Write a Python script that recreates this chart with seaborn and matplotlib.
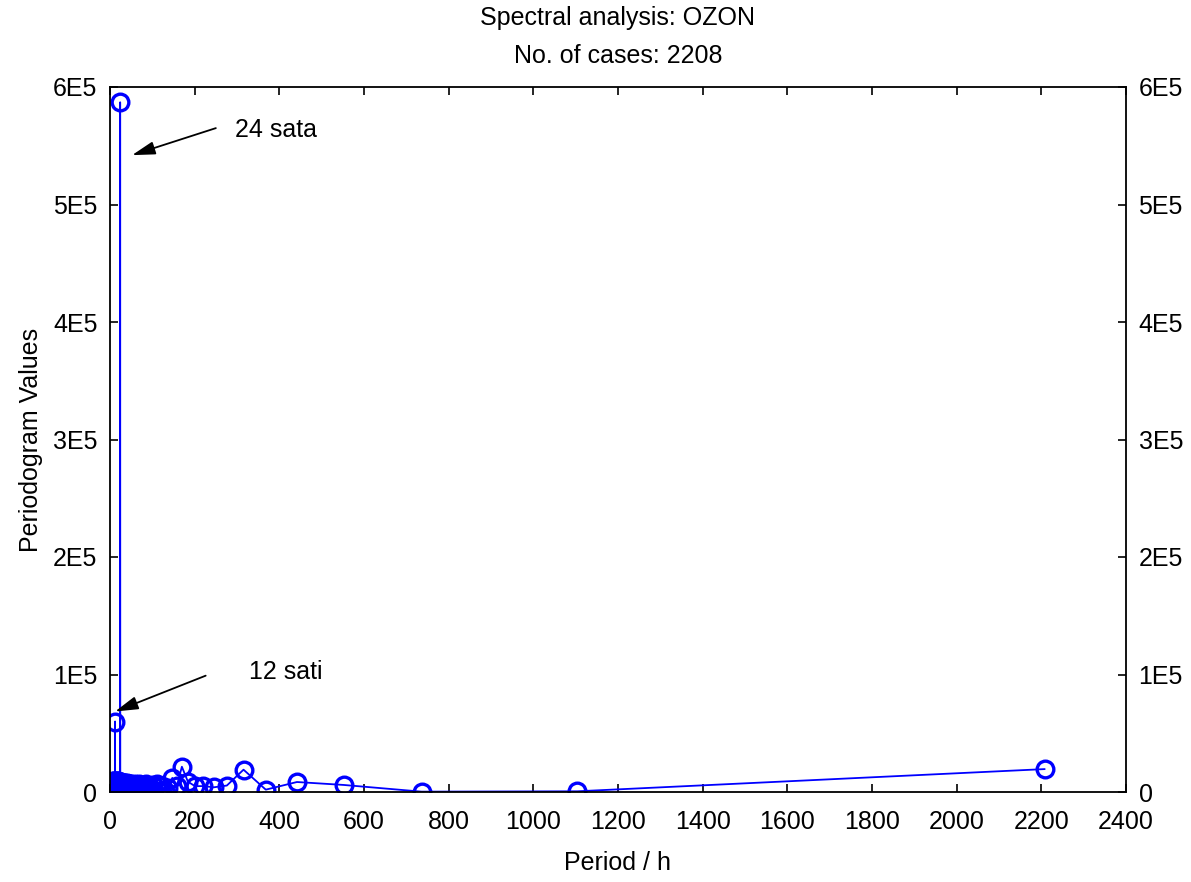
import matplotlib
matplotlib.use("Agg")
import matplotlib.pyplot as plt
from matplotlib.ticker import FixedLocator, FuncFormatter
import seaborn as sns
import pandas as pd

# Periodogram of hourly ozone series (period in hours)
periods = [2208, 1104, 736, 552, 441.6, 368, 315.4, 276, 245.3, 220.8, 200.7, 184,
           169.8, 157.7, 147.2, 138, 129.9, 122.7, 116.2, 110.4, 105.1, 100.4, 96, 92,
           88.3, 84.9, 81.8, 78.9, 76.1, 73.6, 71.2, 69, 66.9, 64.9, 63.1, 61.3, 59.7,
           58.1, 56.6, 55.2, 53.9, 52.6, 51.3, 50.2, 49.1, 48, 47, 46, 45.1, 44.2,
           43.3, 42.5, 41.7, 40.9, 40.1, 39.4, 38.7, 38.1, 37.4, 36.8, 36.2, 35.6,
           35.0, 34.5, 34.0, 33.5, 33.0, 32.5, 32.0, 31.5, 31.1, 30.7, 30.2, 29.8,
           29.4, 29.1, 28.7, 28.3, 27.9, 27.6, 27.3, 26.9, 26.6, 26.3, 26.0, 25.7,
           25.4, 25.1, 24.8, 24.5, 24.3, 24.0, 23.7, 23.5, 23.2, 22.8, 22.2, 21.6,
           21.0, 20.4, 19.9, 19.4, 18.9, 18.4, 17.9, 17.4, 17.0, 16.6, 16.2, 15.8,
           15.3, 14.8, 14.4, 14.0, 13.6, 13.3, 12.9, 12.6, 12.4, 12.2, 12.1, 12.0,
           11.9, 11.8, 11.7, 11.3, 11.0, 10.5, 10.0, 9.5, 9.0, 8.5, 8.0, 7.5, 7.0,
           6.5, 6.0, 5.5, 5.0, 4.5, 4.0, 3.5, 3.0, 2.5, 2.0]
values = [19500, 600, 300, 6000, 8500, 2000, 19000, 5500, 4000, 5000, 5000, 8800,
          21500, 5000, 12000, 3000, 500, 5000, 1000, 6500, 500, 6000, 1500, 5500,
          500, 7000, 1000, 6000, 500, 5500, 1500, 7000, 500, 6000, 1000, 5000, 500,
          7000, 1500, 6000, 500, 5500, 1000, 7000, 2000, 6500, 500, 6000, 1500, 7000,
          500, 5500, 1000, 7500, 2500, 6000, 500, 7000, 1500, 6500, 500, 7500,
          1000, 6000, 2000, 7000, 500, 8000, 1500, 6500, 500, 7500, 1000, 7000,
          2500, 8000, 500, 7000, 1500, 8000, 500, 7500, 1000, 8500, 2000, 7000,
          500, 8000, 1500, 7000, 4000, 587000, 5000, 1500, 7500, 500, 8500, 1500,
          8000, 500, 9000, 1000, 8000, 2000, 9000, 500, 8500, 1500, 9000, 500,
          8000, 1000, 9000, 500, 8500, 2000, 8000, 500, 6000, 2500, 4000, 60000,
          3000, 6000, 1000, 8500, 500, 9000, 1000, 8500, 500, 9000, 1500, 8000,
          500, 9000, 1000, 8000, 500, 8500, 1500, 7500, 500, 6000, 1000]

x_ticks = [0, 200, 400, 600, 800, 1000, 1200, 1400, 1600, 1800, 2000, 2200, 2400]
y_ticks = [0, 100000, 200000, 300000, 400000, 500000, 600000]
y_tick_labels = ["0", "1E5", "2E5", "3E5", "4E5", "5E5", "6E5"]

df = pd.DataFrame({"period": periods, "value": values})

sns.set_style("ticks")
plt.rcParams["font.family"] = ["Liberation Sans", "DejaVu Sans"]
for key in ("text.color", "axes.labelcolor", "xtick.color", "ytick.color", "axes.edgecolor"):
    plt.rcParams[key] = "black"
FS = 18

fig = plt.figure(figsize=(11.91, 8.82), dpi=100)
ax = fig.add_axes([110 / 1191, 1 - 792 / 882, 1016 / 1191, 705 / 882])

sns.lineplot(data=df, x="period", y="value", ax=ax, color="blue", linewidth=1.3,
             marker="o", markersize=12, markerfacecolor="none",
             markeredgecolor="blue", markeredgewidth=2.4, sort=True)

ax.set_xlim(0, 2400)
ax.set_ylim(0, 600000)
ax.xaxis.set_major_locator(FixedLocator(x_ticks))
ax.yaxis.set_major_locator(FixedLocator(y_ticks))
ax.yaxis.set_major_formatter(FuncFormatter(lambda v, pos: y_tick_labels[pos] if pos is not None and pos < len(y_tick_labels) else ""))
ax.tick_params(axis="both", which="both", direction="in", top=True, right=True,
               labelright=True, length=6, width=1.2, labelsize=FS, colors="black")
ax.tick_params(axis="y", pad=9)
ax.tick_params(axis="x", pad=13)
for s in ax.spines.values():
    s.set_linewidth(1.3)
    s.set_color("black")

ax.set_xlabel("Period / h", fontsize=FS, labelpad=12)
ax.set_ylabel("Periodogram Values", fontsize=FS, labelpad=7)

fig.text(618 / 1191, 1 - 18 / 882, "Spectral analysis: OZON", ha="center", va="center", fontsize=FS)
fig.text(618 / 1191, 1 - 56 / 882, "No. of cases: 2208", ha="center", va="center", fontsize=FS)

arrow_kw = dict(arrowstyle="-|>,head_length=0.7,head_width=0.2", color="black",
                lw=1.3, mutation_scale=20, shrinkA=0, shrinkB=0)
ax.annotate("", xy=(52, 542000), xytext=(250, 565000), arrowprops=arrow_kw)
ax.text(295, 563000, "24 sata", fontsize=FS, va="center", ha="left")
ax.annotate("", xy=(12, 68500), xytext=(226, 99000), arrowprops=arrow_kw)
ax.text(328, 102500, "12 sati", fontsize=FS, va="center", ha="left")

fig.savefig("out.png", dpi=100)
